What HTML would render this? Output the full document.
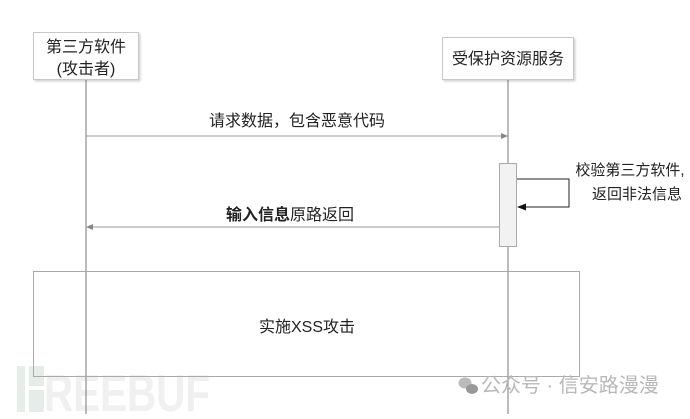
<!DOCTYPE html>
<html><head><meta charset="utf-8"><style>
body{margin:0;background:#fff;}
svg text{font-family:"Liberation Sans","Noto Sans CJK SC",sans-serif;}
</style></head><body>
<svg width="690" height="414" viewBox="0 0 690 414" xmlns="http://www.w3.org/2000/svg">
<defs>
<filter id="sh" x="-10%" y="-10%" width="130%" height="130%"><feDropShadow dx="1.5" dy="1.5" stdDeviation="1" flood-color="#000" flood-opacity="0.18"/></filter>
</defs>
<!-- watermark -->
<g fill="#e6ece8">
<rect x="17" y="366" width="8" height="46"/>
<rect x="29" y="366" width="15" height="20"/>
<rect x="29" y="390" width="15" height="22"/>
</g>
<text x="44" y="411" font-size="52" font-weight="bold" fill="#f0f0f0" textLength="166" lengthAdjust="spacingAndGlyphs">REEBUF</text>
<!-- lifelines -->
<line x1="86" y1="80" x2="86" y2="414" stroke="#777" stroke-width="1"/>
<line x1="508" y1="80" x2="508" y2="414" stroke="#777" stroke-width="1"/>
<!-- header boxes -->
<rect x="33.5" y="32.5" width="105" height="47" fill="#fff" stroke="#c8c8c8" filter="url(#sh)"/>
<text x="86" y="52" font-size="16" text-anchor="middle" fill="#222">第三方软件</text>
<text x="86" y="74" font-size="16" text-anchor="middle" fill="#222">(攻击者)</text>
<rect x="442.5" y="37.5" width="131" height="42" fill="#fff" stroke="#c8c8c8" filter="url(#sh)"/>
<text x="508" y="64" font-size="16" text-anchor="middle" fill="#222">受保护资源服务</text>
<!-- request -->
<text x="297" y="126" font-size="16" text-anchor="middle" fill="#222">请求数据，包含恶意代码</text>
<line x1="86" y1="136" x2="503" y2="136" stroke="#999"/>
<polygon points="508,136 501,133 501,139" fill="#888"/>
<!-- activation -->
<rect x="499.5" y="163.5" width="17" height="83" fill="#f2f2f2" stroke="#aaa"/>
<!-- self loop -->
<polyline points="517,179 569,179 569,207 523,207" fill="none" stroke="#222" stroke-width="1"/>
<polygon points="517,207 526,203.5 526,210.5" fill="#111"/>
<text x="630" y="175" font-size="15" text-anchor="middle" fill="#222">校验第三方软件,</text>
<text x="637" y="199" font-size="15" text-anchor="middle" fill="#222">返回非法信息</text>
<!-- return -->
<text x="290" y="220" font-size="16" text-anchor="middle" fill="#222"><tspan font-weight="bold">输入信息</tspan>原路返回</text>
<line x1="91" y1="227" x2="499" y2="227" stroke="#999"/>
<polygon points="86,227 93,224 93,230" fill="#888"/>
<!-- big box -->
<rect x="33.5" y="271.5" width="546" height="105" fill="none" stroke="#aaa"/>
<text x="307" y="332" font-size="16" text-anchor="middle" fill="#222">实施XSS攻击</text>
<!-- wechat watermark -->
<g fill="#bbb">
<ellipse cx="465" cy="383" rx="6.5" ry="5.5"/>
<ellipse cx="472" cy="389" rx="6" ry="5" fill="#999"/>
</g>
<text x="481" y="392" font-size="20" fill="#b8b8b8">公众号 · 信安路漫漫</text>
</svg>
</body></html>
